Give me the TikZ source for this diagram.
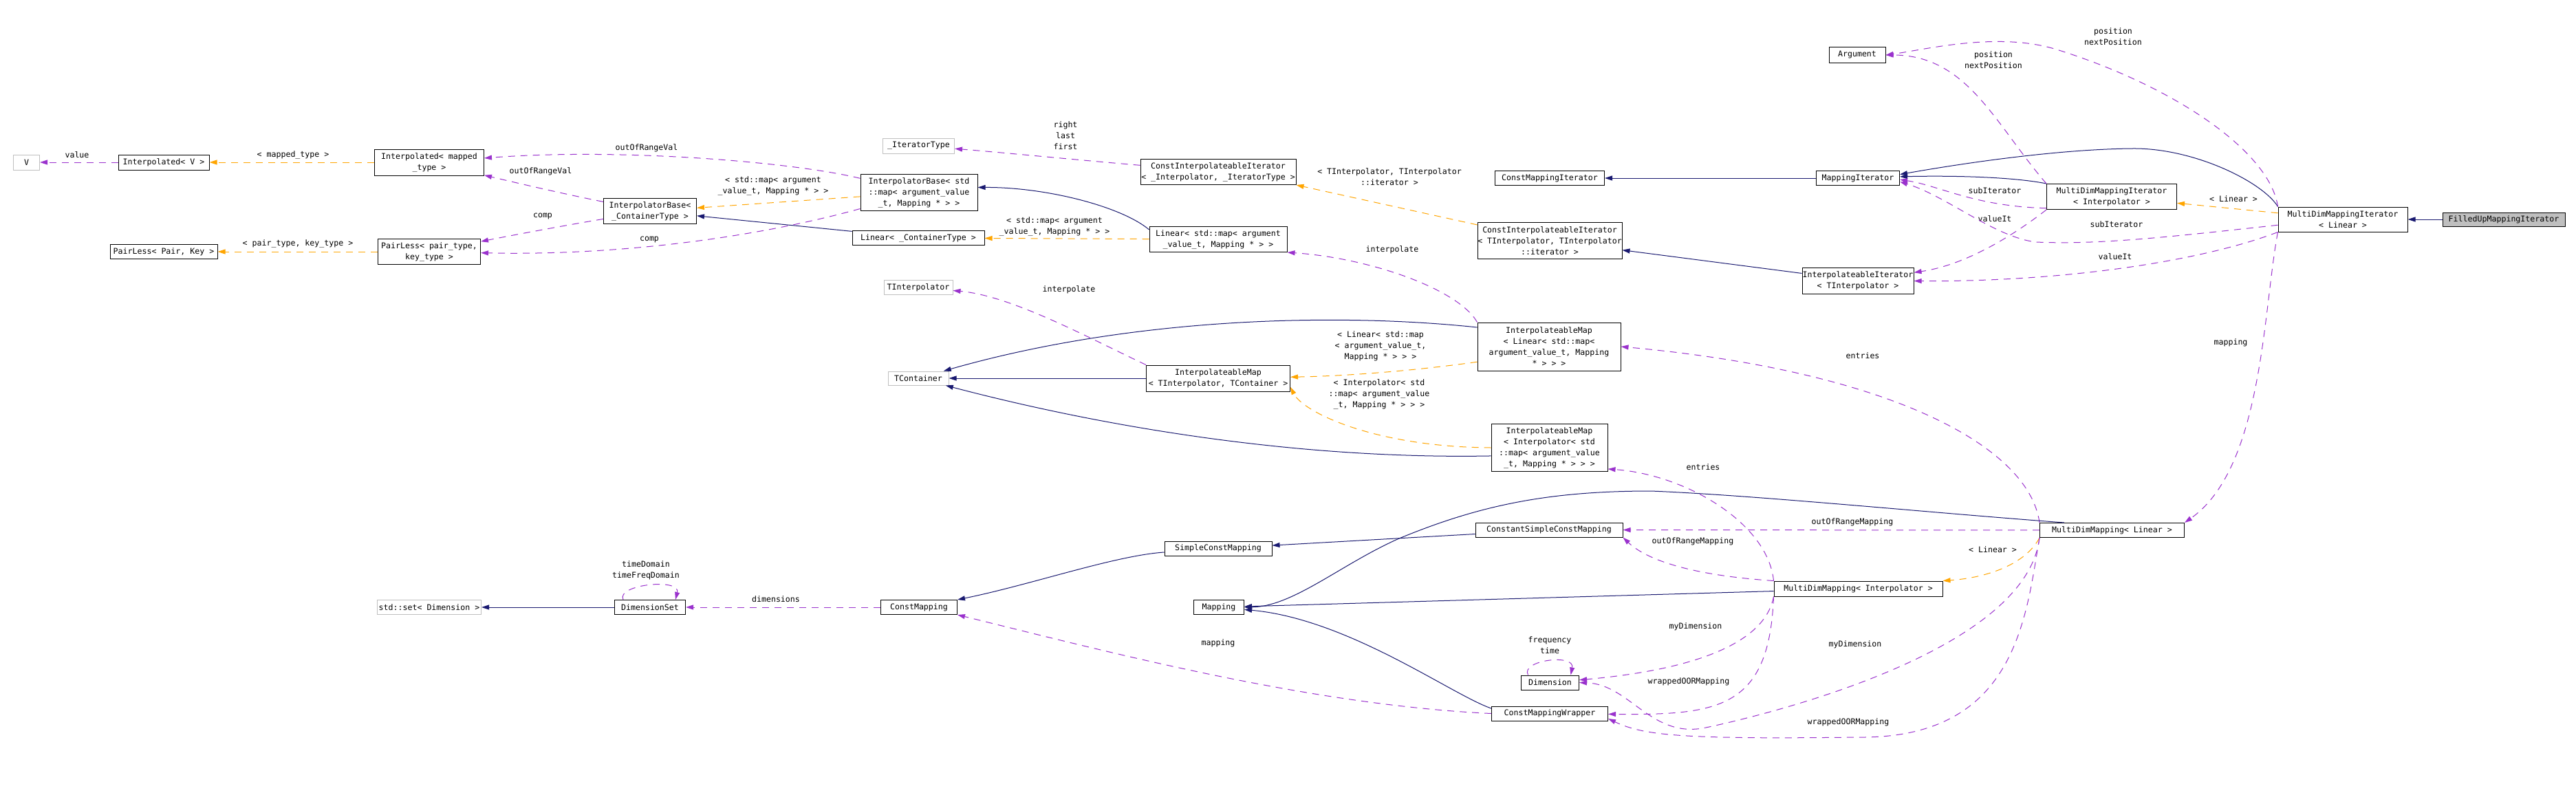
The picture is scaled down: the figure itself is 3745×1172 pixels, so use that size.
\documentclass[tikz,border=0pt]{standalone}
\usepackage{fontspec}
\setmonofont{DejaVu Sans Mono}
\usetikzlibrary{arrows.meta}
\definecolor{navy}{HTML}{191970}
\definecolor{purp}{HTML}{9A32CD}
\definecolor{orng}{HTML}{FFA500}
\definecolor{edgegray}{HTML}{BFBFBF}
\begin{document}
\begin{tikzpicture}[x=1pt,y=-1pt,>={Stealth[inset=0pt,length=11pt,width=7pt]},
        cls/.style={draw=black,fill=white,line width=1pt,inner sep=0pt,align=center,font=\ttfamily\fontsize{11.6}{16}\selectfont},
        ext/.style={cls,draw=edgegray},
        focus/.style={cls,fill=edgegray},
        sz/.style 2 args={minimum width=#1,minimum height=#2},
        lbl/.style={inner sep=0pt,align=center,font=\ttfamily\fontsize{11.6}{16}\selectfont},
        inh/.style={->,navy,line width=1pt},
        tpl/.style={->,orng,line width=1pt,dash pattern=on 10pt off 8pt},
        usage/.style={->,purp,line width=1pt,dash pattern=on 10pt off 8pt},]
        \path[use as bounding box,fill=white] (0,0) rectangle (3745,1172);
        \node[ext,sz={38pt}{22pt}] (V) at (38.6,236) {V};
        \node[cls,sz={132pt}{22pt}] (IV) at (238,236) {Interpolated< V >};
        \node[cls,sz={159pt}{38pt}] (IMT) at (624,236) {Interpolated< mapped\\\_type >};
        \node[cls,sz={156pt}{21pt}] (PPK) at (238,366) {PairLess< Pair, Key >};
        \node[cls,sz={149pt}{37pt}] (PPT) at (624,366) {PairLess< pair\_type,\\key\_type >};
        \node[cls,sz={135pt}{37pt}] (IBC) at (945,307) {InterpolatorBase<\\\_ContainerType >};
        \node[ext,sz={104pt}{22pt}] (IT) at (1335.5,212) {\_IteratorType};
        \node[cls,sz={170pt}{53pt}] (IBS) at (1336,280) {InterpolatorBase< std\\::map< argument\_value\\\_t, Mapping * > >};
        \node[cls,sz={192pt}{21pt}] (LC) at (1335,346) {Linear< \_ContainerType >};
        \node[ext,sz={100pt}{21pt}] (TI) at (1335,418) {TInterpolator};
        \node[ext,sz={88pt}{20pt}] (TC) at (1335,550) {TContainer};
        \node[cls,sz={226pt}{37pt}] (CII) at (1771,250) {ConstInterpolateableIterator\\< \_Interpolator, \_IteratorType >};
        \node[cls,sz={200pt}{37pt}] (LSM) at (1771,348) {Linear< std::map< argument\\\_value\_t, Mapping * > >};
        \node[cls,sz={209pt}{38pt}] (IMC) at (1771,550) {InterpolateableMap\\< TInterpolator, TContainer >};
        \node[cls,sz={159pt}{21pt}] (CMI) at (2253,259) {ConstMappingIterator};
        \node[cls,sz={210pt}{53pt}] (CIT) at (2253,350) {ConstInterpolateableIterator\\< TInterpolator, TInterpolator\\::iterator >};
        \node[cls,sz={208pt}{70pt}] (IML) at (2252,504) {InterpolateableMap\\< Linear< std::map<\\argument\_value\_t, Mapping\\* > > >};
        \node[cls,sz={169pt}{69pt}] (IMI) at (2252.5,651) {InterpolateableMap\\< Interpolator< std\\::map< argument\_value\\\_t, Mapping * > > >};
        \node[cls,sz={82pt}{22pt}] (ARG) at (2700,80) {Argument};
        \node[cls,sz={121pt}{21pt}] (MI) at (2701,259) {MappingIterator};
        \node[cls,sz={162pt}{38pt}] (IIT) at (2701,408) {InterpolateableIterator\\< TInterpolator >};
        \node[cls,sz={189pt}{37pt}] (MII) at (3070,286) {MultiDimMappingIterator\\< Interpolator >};
        \node[cls,sz={188pt}{36pt}] (MIL) at (3406,319) {MultiDimMappingIterator\\< Linear >};
        \node[focus,sz={178pt}{20pt}] (FUM) at (3640,319) {FilledUpMappingIterator};
        \node[cls,sz={156pt}{21pt}] (SCM) at (1771,797.5) {SimpleConstMapping};
        \node[cls,sz={214pt}{21pt}] (CSC) at (2252,770.5) {ConstantSimpleConstMapping};
        \node[cls,sz={210pt}{21pt}] (MDL) at (3070.5,771) {MultiDimMapping< Linear >};
        \node[cls,sz={245pt}{22pt}] (MDI) at (2701.5,856) {MultiDimMapping< Interpolator >};
        \node[ext,sz={151pt}{21pt}] (SET) at (624,883) {std::set< Dimension >};
        \node[cls,sz={103pt}{21pt}] (DS) at (945,883) {DimensionSet};
        \node[cls,sz={111pt}{21pt}] (CM) at (1336,883) {ConstMapping};
        \node[cls,sz={73pt}{21pt}] (MAP) at (1772,883) {Mapping};
        \node[cls,sz={84pt}{21pt}] (DIM) at (2253.5,992.5) {Dimension};
        \node[cls,sz={169pt}{21pt}] (CMW) at (2253,1037.5) {ConstMappingWrapper};
        \node[lbl] (L1) at (112,225) {value};
        \node[lbl] (L2) at (426,225) {< mapped\_type >};
        \node[lbl] (L3) at (433,354) {< pair\_type, key\_type >};
        \node[lbl] (L4) at (940,215) {outOfRangeVal};
        \node[lbl] (L5) at (786,249) {outOfRangeVal};
        \node[lbl] (L6) at (1124,270) {< std::map< argument\\\_value\_t, Mapping * > >};
        \node[lbl] (L7) at (789,314) {comp};
        \node[lbl] (L8) at (944,348) {comp};
        \node[lbl] (L9) at (1549,197) {right\\last\\first};
        \node[lbl] (L10) at (1533,329) {< std::map< argument\\\_value\_t, Mapping * > >};
        \node[lbl] (L11) at (2020,257) {< TInterpolator, TInterpolator\\::iterator >};
        \node[lbl] (L12) at (2024,363) {interpolate};
        \node[lbl] (L13) at (1554,421) {interpolate};
        \node[lbl] (L14) at (2007,503) {< Linear< std::map\\< argument\_value\_t,\\Mapping * > > >};
        \node[lbl] (L15) at (2005,573) {< Interpolator< std\\::map< argument\_value\\\_t, Mapping * > > >};
        \node[lbl] (L16) at (2476,679) {entries};
        \node[lbl] (L17) at (2708,517) {entries};
        \node[lbl] (L18) at (3072,53) {position\\nextPosition};
        \node[lbl] (L19) at (2898,87) {position\\nextPosition};
        \node[lbl] (L20) at (2900,277) {subIterator};
        \node[lbl] (L21) at (2900,318) {valueIt};
        \node[lbl] (L22) at (3077,326) {subIterator};
        \node[lbl] (L23) at (3075,373) {valueIt};
        \node[lbl] (L24) at (3247,289) {< Linear >};
        \node[lbl] (L25) at (3243,498) {mapping};
        \node[lbl] (L26) at (2693,759) {outOfRangeMapping};
        \node[lbl] (L27) at (2461,787) {outOfRangeMapping};
        \node[lbl] (L28) at (2897,799) {< Linear >};
        \node[lbl] (L29) at (2465,911) {myDimension};
        \node[lbl] (L30) at (2697,937) {myDimension};
        \node[lbl] (L31) at (2253,938) {frequency\\time};
        \node[lbl] (L32) at (2455,991) {wrappedOORMapping};
        \node[lbl] (L33) at (2687,1050) {wrappedOORMapping};
        \node[lbl] (L34) at (1771,935) {mapping};
        \node[lbl] (L35) at (939,829) {timeDomain\\timeFreqDomain};
        \node[lbl] (L36) at (1128,871) {dimensions};
        \draw[usage] (IV)--(V);
        \draw[tpl] (IMT)--(IV);
        \draw[tpl] (PPT)--(PPK);
        \draw[usage] (IBS) .. controls (1150,235) and (900,215) .. (IMT);
        \draw[usage] (IBC) .. controls (820,282) and (760,268) .. (IMT);
        \draw[usage] (IBC) .. controls (820,328) and (740,343) .. (PPT);
        \draw[usage] (IBS) .. controls (1100,345) and (900,372) .. (PPT);
        \draw[tpl] (IBS)--(IBC);
        \draw[inh] (LC)--(IBC);
        \draw[usage] (CII) .. controls (1560,232) and (1460,222) .. (IT);
        \draw[inh] (LSM.172) .. controls (1630,300) and (1520,272) .. (IBS.5);
        \draw[tpl] (LSM)--(LC);
        \draw[tpl] (CIT)--(CII.south east);
        \draw[usage] (IML.north west) .. controls (2120,420) and (1990,375) .. (LSM.south east);
        \draw[usage] (IMC.north west) .. controls (1580,490) and (1470,430) .. (TI);
        \draw[inh] (IML.165) .. controls (1950,455) and (1650,460) .. (TC);
        \draw[inh] (IMC)--(TC);
        \draw[inh] (IMI.188) .. controls (1900,668) and (1620,625) .. (TC);
        \draw[tpl] (IML.192) .. controls (2050,540) and (1950,547) .. (IMC);
        \draw[tpl] (IMI.west) .. controls (2000,650) and (1895,600) .. (IMC.-7);
        \draw[inh] (MI)--(CMI);
        \draw[inh] (MII.north west) .. controls (2930,258) and (2850,255) .. (MI.2);
        \draw[inh] (MIL.north west) .. controls (3290,265) and (3190,215) .. (3100,216) .. controls (2990,217) and (2850,238) .. (MI.5);
        \draw[inh] (IIT)--(CIT);
        \draw[inh] (FUM)--(MIL);
        \draw[tpl] (MIL)--(MII);
        \draw[usage] (MII.north west) .. controls (2900,180) and (2860,80) .. (ARG);
        \draw[usage] (MIL.north west) .. controls (3300,220) and (3160,125) .. (2990,72) .. controls (2905,45.5) and (2800,72) .. (ARG.east);
        \draw[usage] (MII.190) .. controls (2870,300) and (2820,270) .. (MI.-2);
        \draw[usage] (MIL.185) .. controls (3150,345) and (3050,356) .. (2960,352) .. controls (2900,345) and (2830,285) .. (MI.-5);
        \draw[usage] (MII.south west) .. controls (2930,340) and (2860,385) .. (IIT);
        \draw[usage] (MIL.south west) .. controls (3200,380) and (3000,410) .. (IIT);
        \draw[usage] (MIL.south west) .. controls (3290,450) and (3290,680) .. (MDL.north east);
        \draw[usage] (MDL.north west) .. controls (2950,650) and (2750,540) .. (IML.east);
        \draw[usage] (MDI.north west) .. controls (2570,760) and (2450,690) .. (IMI.-20);
        \draw[usage] (MDL)--(CSC);
        \draw[usage] (MDI.north west) .. controls (2480,838) and (2400,820) .. (CSC.south east);
        \draw[tpl] (MDL.south west) .. controls (2945,820) and (2890,840) .. (MDI.north east);
        \draw[inh] (MDL.171) .. controls (2800,745) and (2550,720) .. (2400,714) .. controls (2250,714) and (2150,735) .. (2034,783) .. controls (1950,820) and (1880,882) .. (MAP.east);
        \draw[inh] (MDI)--(MAP);
        \draw[inh] (CMW.175) .. controls (2110,1010) and (1960,900) .. (MAP);
        \draw[usage] (CMW.west) .. controls (1900,1025) and (1600,945) .. (CM.south east);
        \draw[usage] (CM)--(DS);
        \draw[inh] (DS)--(SET);
        \draw[inh] (SCM.184) .. controls (1620,808) and (1500,850) .. (CM.north east);
        \draw[inh] (CSC)--(SCM);
        \draw[usage] ([xshift=-32pt]DIM.north) .. controls (2210,960) and (2290,950) .. ([xshift=30pt]DIM.north);
        \draw[usage] ([xshift=-39pt]DS.north) .. controls (895,850) and (990,840) .. ([xshift=37pt]DS.north);
        \draw[usage] (MDI.south west) .. controls (2565,940) and (2450,975) .. (DIM);
        \draw[usage] (MDL.south west) .. controls (2945,950) and (2560,1041) .. (2480,1058) .. controls (2400,1075) and (2370,995) .. (DIM.east);
        \draw[usage] (MDI.south west) .. controls (2572,1030) and (2500,1040) .. (CMW);
        \draw[usage] (MDL.south west) .. controls (2945,900) and (2930,1075) .. (2700,1072) .. controls (2450,1075) and (2390,1070) .. (CMW.-5);
    \end{tikzpicture}
\end{document}
